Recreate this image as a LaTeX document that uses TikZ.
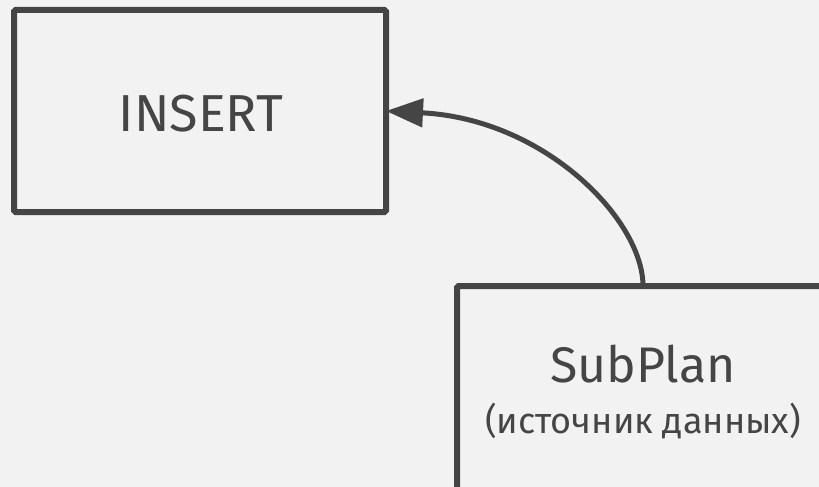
\documentclass[tikz,border=0pt]{standalone}
\usepackage{fontspec}
\setmainfont{Fira Sans}
\usetikzlibrary{arrows.meta}
\definecolor{ink}{HTML}{454545}
\definecolor{paper}{HTML}{F2F2F2}
\tikzset{
  opbox/.style={draw=ink, line width=6pt, rounded corners=1.5pt, outer sep=0pt,
    minimum width=372pt, inner sep=0pt},
  bigtext/.style={text=ink, anchor=base, inner sep=0pt,
    font=\fontsize{52}{52}\selectfont},
  smalltext/.style={text=ink, anchor=base, inner sep=0pt,
    font=\fontsize{36}{36}\selectfont},
  flow/.style={draw=ink, line width=5pt,
    -{Triangle[length=37pt,width=28pt]}},
}
\begin{document}
\begin{tikzpicture}[x=1pt,y=-1pt]
  \fill[paper] (0,0) rectangle (819,487);
  \useasboundingbox (0,0) rectangle (819,487);
  \clip (0,0) rectangle (819,487);
  % the two operator boxes
  \node[opbox, minimum height=202pt] (insert) at (200,111) {};
  \node[opbox, minimum height=204pt] (subplan) at (643,388) {};
  % their captions
  \node[bigtext] (insertlbl) at (201,131) {INSERT};
  \node[bigtext, font=\fontsize{50}{50}\selectfont] (subplanlbl) at (643,382) {SubPlan};
  \node[smalltext] (subplannote) at (643,433) {(источник данных)};
  % data flows from the subplan into the insert
  \draw[flow] (subplan.north) .. controls (643,220) and (545,119) .. (insert.east);
\end{tikzpicture}
\end{document}
